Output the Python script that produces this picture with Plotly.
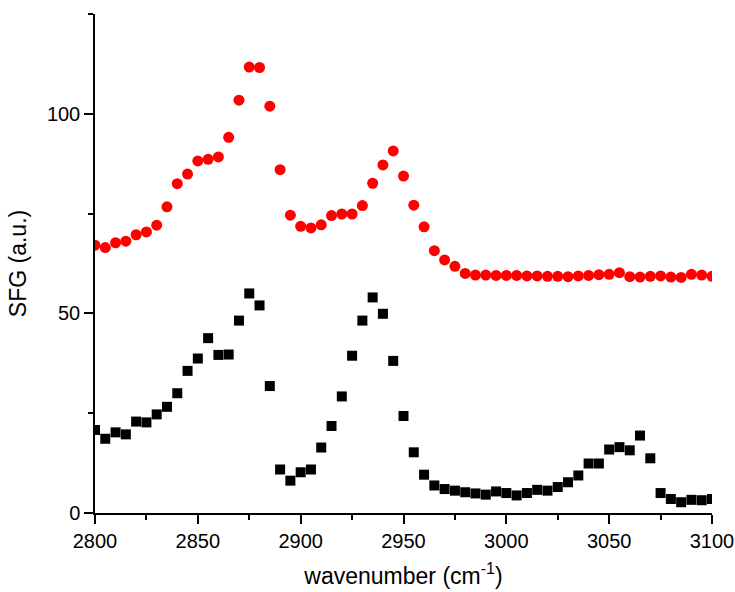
import plotly.graph_objects as go

# Wavenumber grid (cm^-1), 5 cm^-1 steps
wavenumber = list(range(2800, 3101, 5))

# Upper spectrum (red circles)
sfg_red = [
    67.1, 66.5, 67.7, 68.1, 69.7, 70.4, 72.1, 76.7, 82.5, 84.9,
    88.2, 88.6, 89.2, 94.1, 103.4, 111.7, 111.6, 101.9, 86.0, 74.6,
    71.8, 71.4, 72.2, 74.5, 74.9, 74.9, 77.0, 82.6, 87.2, 90.7,
    84.4, 77.1, 71.7, 65.7, 63.4, 61.8, 60.0, 59.6, 59.6, 59.5,
    59.5, 59.5, 59.4, 59.4, 59.3, 59.3, 59.2, 59.4, 59.5, 59.7,
    59.8, 60.2, 59.2, 59.1, 59.3, 59.4, 59.1, 59.0, 59.8, 59.6,
    59.3,
]

# Lower spectrum (black squares)
sfg_black = [
    20.8, 18.6, 20.2, 19.7, 22.9, 22.7, 24.7, 26.6, 30.0, 35.6,
    38.7, 43.8, 39.6, 39.7, 48.2, 55.0, 52.0, 31.8, 10.9, 8.1,
    10.2, 10.9, 16.4, 21.8, 29.2, 39.4, 48.2, 54.0, 49.9, 38.1,
    24.3, 15.2, 9.6, 6.9, 6.0, 5.6, 5.2, 4.9, 4.6, 5.4,
    5.0, 4.4, 5.0, 5.8, 5.6, 6.5, 7.7, 9.4, 12.4, 12.4,
    15.9, 16.5, 15.7, 19.4, 13.7, 5.0, 3.5, 2.7, 3.3, 3.2,
    3.5,
]

x_ticks = [2800, 2850, 2900, 2950, 3000, 3050, 3100]
y_ticks = [0, 50, 100]

FONT = "Arial, Liberation Sans, sans-serif"

fig = go.Figure()
fig.add_trace(go.Scatter(
    x=wavenumber, y=sfg_black, mode="markers",
    marker=dict(symbol="square", size=10, color="black", line=dict(width=0)),
    showlegend=False,
))
fig.add_trace(go.Scatter(
    x=wavenumber, y=sfg_red, mode="markers",
    marker=dict(symbol="circle", size=11, color="#ff0000", line=dict(width=0)),
    showlegend=False,
))

axis_common = dict(
    showgrid=False, zeroline=False, showline=True, linecolor="black",
    linewidth=1.5, ticks="outside", tickcolor="black", tickwidth=1.5,
    ticklen=9, tickfont=dict(family=FONT, size=20, color="black"),
    mirror=False, automargin=False,
)

fig.update_xaxes(
    range=[2800, 3100], tickvals=x_ticks,
    title=dict(text="wavenumber (cm<sup>-1</sup>)",
               font=dict(family=FONT, size=23, color="black"), standoff=17),
    minor=dict(ticks="outside", dtick=25, tick0=2800, ticklen=5,
               tickwidth=1.5, tickcolor="black"),
    **axis_common,
)
fig.update_yaxes(
    range=[0, 125], tickvals=y_ticks,
    title=dict(text="SFG (a.u.)",
               font=dict(family=FONT, size=23, color="black"), standoff=14),
    minor=dict(ticks="outside", dtick=25, tick0=0, ticklen=5,
               tickwidth=1.5, tickcolor="black"),
    **axis_common,
)

fig.update_layout(
    width=735, height=592,
    margin=dict(l=95, r=23, t=14, b=79),
    plot_bgcolor="white", paper_bgcolor="white",
)

fig.write_html("out.html")
